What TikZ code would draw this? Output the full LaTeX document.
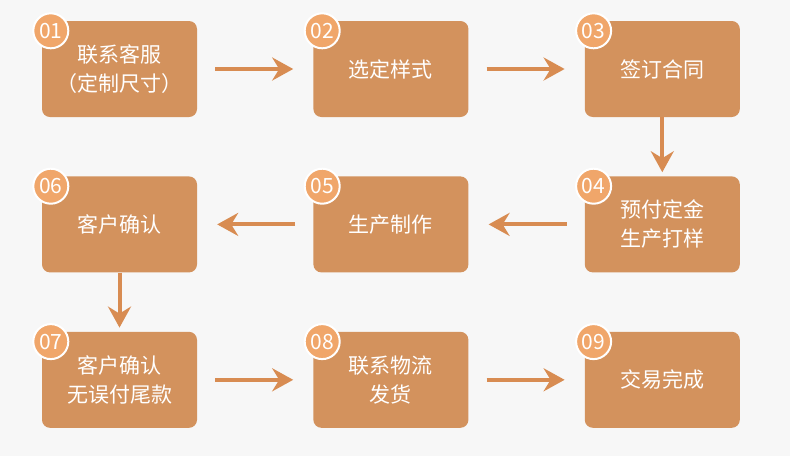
\documentclass[tikz,border=0pt]{standalone}
\usepackage{fontspec}
\setmainfont{Noto Sans CJK SC}
\usetikzlibrary{positioning,arrows.meta}
\definecolor{bgcol}{RGB}{247,247,247}
\definecolor{boxfill}{RGB}{211,146,93}
\definecolor{badgefill}{RGB}{240,166,106}
\definecolor{arrowcol}{RGB}{216,140,82}

\begin{document}
\begin{tikzpicture}[x=1pt, y=-1pt, font=\fontsize{21}{29}\selectfont,
  stepbox/.style={fill=boxfill, rounded corners=8pt, minimum width=155pt,
    minimum height=96pt, inner sep=0pt, text=white, align=center},
  badge/.style={circle, fill=badgefill, draw=white, line width=2pt,
    minimum size=35pt, inner sep=0pt, text=white,
    font=\fontsize{21}{21}\selectfont},
  flow/.style={-{Stealth[length=21pt,width=23pt,inset=7pt]},
    line width=4pt, draw=arrowcol, shorten <=18pt, shorten >=20pt},
  down/.style={flow, shorten <=0pt, shorten >=4pt}]
  \fill[bgcol] (0,0) rectangle (790,456);
  % steps
  \node[stepbox] (s1) at (119.5,69) {联系客服\\（定制尺寸）};
  \node[stepbox, right=116pt of s1] (s2) {选定样式};
  \node[stepbox, right=116pt of s2] (s3) {签订合同};
  \node[stepbox, below=59pt of s3] (s4) {预付定金\\生产打样};
  \node[stepbox, left=116pt of s4] (s5) {生产制作};
  \node[stepbox, left=116pt of s5] (s6) {客户确认};
  \node[stepbox, below=59pt of s6] (s7) {客户确认\\无误付尾款};
  \node[stepbox, right=116pt of s7] (s8) {联系物流\\发货};
  \node[stepbox, right=116pt of s8] (s9) {交易完成};
  % badges
  \foreach \n in {1,...,9}
    \node[badge] (b\n) at ([xshift=9pt,yshift=-10pt]s\n.north west) {0\n};
  % arrows
  \draw[flow] (s1) -- (s2);
  \draw[flow] (s2) -- (s3);
  \draw[down] (s3) -- (s4);
  \draw[flow] (s4) -- (s5);
  \draw[flow] (s5) -- (s6);
  \draw[down] (s6) -- (s7);
  \draw[flow] (s7) -- (s8);
  \draw[flow] (s8) -- (s9);
\end{tikzpicture}
\end{document}
